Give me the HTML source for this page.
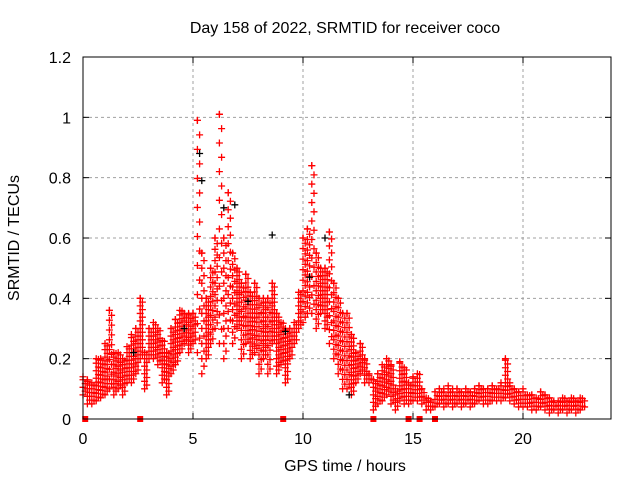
<!DOCTYPE html>
<html><head><meta charset="utf-8"><style>
body{margin:0;background:#fff;}
svg{display:block;font-family:"Liberation Sans",sans-serif;}
</style></head><body>
<svg id="chart" width="640" height="480" viewBox="0 0 640 480">
<rect width="640" height="480" fill="#fff"/>
<text x="345" y="33" font-size="16" text-anchor="middle">Day 158 of 2022, SRMTID for receiver coco</text>
<text x="345" y="471" font-size="16" text-anchor="middle">GPS time / hours</text>
<text x="0" y="0" font-size="16" text-anchor="middle" transform="translate(19,238) rotate(-90)">SRMTID / TECUs</text>
<g id="grid"></g><g id="marks"></g><g id="axes"></g>
</svg>
<script>
const xTicks=[0,5,10,15,20];
const yTicks=[0,0.2,0.4,0.6,0.8,1,1.2];
const yTickLabels=["0","0.2","0.4","0.6","0.8","1","1.2"];
const times=[0,0.2,0.4,0.6,0.8,1,1.2,1.4,1.6,1.8,2,2.2,2.4,2.6,2.8,3,3.2,3.4,3.6,3.8,4,4.2,4.4,4.6,4.8,5,5.2,5.4,5.6,5.8,6,6.2,6.4,6.6,6.8,7,7.2,7.4,7.6,7.8,8,8.2,8.4,8.6,8.8,9,9.2,9.4,9.6,9.8,10,10.2,10.4,10.6,10.8,11,11.2,11.4,11.6,11.8,12,12.2,12.4,12.6,12.8,13,13.2,13.4,13.6,13.8,14,14.2,14.4,14.6,14.8,15,15.2,15.4,15.6,15.8,16,16.2,16.4,16.6,16.8,17,17.2,17.4,17.6,17.8,18,18.2,18.4,18.6,18.8,19,19.2,19.4,19.6,19.8,20,20.2,20.4,20.6,20.8,21,21.2,21.4,21.6,21.8,22,22.2,22.4,22.6,22.8];
const lowVals=[.08,.05,.05,.06,.07,.08,.1,.08,.1,.08,.12,.12,.15,.2,.1,.2,.2,.18,.12,.08,.15,.18,.22,.25,.22,.25,.22,.15,.2,.25,.3,.25,.2,.3,.25,.3,.2,.25,.2,.22,.15,.2,.15,.25,.15,.18,.12,.2,.25,.3,.32,.35,.35,.3,.35,.3,.25,.2,.15,.1,.1,.08,.12,.15,.12,.12,.03,.05,.06,.08,.05,.03,.06,.05,.05,.06,.06,.05,.03,.03,.04,.05,.04,.05,.04,.05,.04,.05,.04,.05,.06,.05,.05,.06,.06,.06,.07,.06,.05,.04,.04,.04,.03,.03,.04,.03,.02,.03,.02,.03,.02,.03,.02,.03,.04];
const highVals=[.14,.13,.12,.2,.2,.25,.36,.22,.22,.2,.24,.28,.3,.4,.22,.3,.32,.3,.26,.22,.3,.33,.36,.35,.35,.35,.99,.55,.4,.5,.6,1.01,.6,.75,.55,.5,.45,.48,.42,.45,.4,.4,.4,.45,.35,.32,.3,.3,.32,.42,.6,.63,.84,.55,.5,.5,.62,.45,.4,.35,.35,.28,.22,.25,.2,.15,.13,.15,.18,.2,.18,.1,.19,.17,.12,.14,.15,.1,.07,.06,.09,.1,.1,.11,.1,.1,.09,.1,.09,.1,.11,.1,.1,.11,.1,.12,.2,.12,.1,.09,.1,.08,.08,.07,.09,.08,.07,.06,.06,.07,.06,.07,.06,.07,.06];
const blackT=[5.3,5.4,6.4,6.9,8.6,7.5,10.3,11.0,9.2,4.6,12.1,2.3];
const blackV=[.88,.79,.7,.71,.61,.39,.47,.6,.29,.3,.08,.22];
const gapT=[0.1,2.6,9.1,13.2,14.8,15.3,16.0];
const NS='http://www.w3.org/2000/svg';
const L=83,R=611,T=57,B=419,XMAX=24,YMAX=1.2;
const xs=v=>L+(R-L)*v/XMAX;
const ys=v=>B-(B-T)*v/YMAX;
function mk(tag,attrs,parent){const e=document.createElementNS(NS,tag);for(const k in attrs)e.setAttribute(k,attrs[k]);parent.appendChild(e);return e;}
const grid=document.getElementById('grid'),marks=document.getElementById('marks'),axes=document.getElementById('axes');
xTicks.forEach(t=>{
  if(t>0){const g=mk('line',{x1:xs(t),x2:xs(t),y1:T,y2:B,stroke:'#a0a0a0','stroke-dasharray':'3,3'},grid);
  
  }
  const lb=mk('text',{x:xs(t),y:444,'font-size':16,'text-anchor':'middle'},axes);lb.textContent=t;
  
  
  mk('line',{x1:xs(t),x2:xs(t),y1:B,y2:B-6,stroke:'#000'},axes);
  mk('line',{x1:xs(t),x2:xs(t),y1:T,y2:T+6,stroke:'#000'},axes);
});
yTicks.forEach((v,i)=>{
  if(v>0&&v<YMAX){const g=mk('line',{x1:L,x2:R,y1:ys(v),y2:ys(v),stroke:'#a0a0a0','stroke-dasharray':'3,3'},grid);
  
  }
  const lb=mk('text',{x:71,y:ys(v)+6,'font-size':16,'text-anchor':'end'},axes);lb.textContent=yTickLabels[i];
  
  
  mk('line',{x1:L,x2:L+6,y1:ys(v),y2:ys(v),stroke:'#000'},axes);
  mk('line',{x1:R,x2:R-6,y1:ys(v),y2:ys(v),stroke:'#000'},axes);
});
const frame=mk('rect',{x:L,y:T,width:R-L,height:B-T,fill:'none',stroke:'#000'},axes);


function plus(t,v,color){
  const x=xs(t),y=ys(v);
  const p=mk('path',{d:`M${x-3.5} ${y}H${x+3.5}M${x} ${y-3.5}V${y+3.5}`,stroke:color,'stroke-width':1.3,fill:'none'},marks);
  
  
}
times.forEach((t,i)=>{
  const lo=lowVals[i],hi=highVals[i];
  const step=Math.max(0.025,(hi-lo)/8);
  [0,0.1].forEach((dt,k)=>{
    if(t+dt>22.9)return;
    for(let v=lo+(k?step/2:0);v<=hi+1e-9;v+=step)plus(t+dt,v,'#ff0000');
    if(k===0)plus(t+dt,hi,'#ff0000');
  });
});
blackT.forEach((t,i)=>plus(t,blackV[i],'#000'));
gapT.forEach(t=>{
  const s=mk('rect',{x:xs(t)-3,y:B-3,width:6,height:6,fill:'#ff0000'},marks);
  
  
});
</script>
</body></html>
